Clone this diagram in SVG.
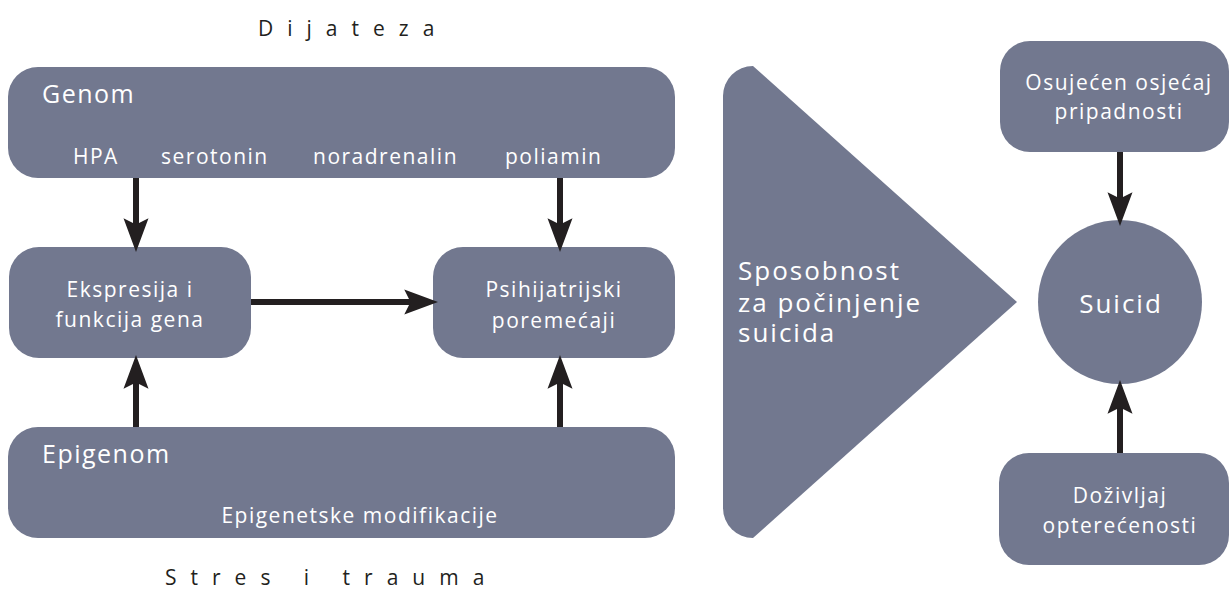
<svg xmlns="http://www.w3.org/2000/svg" width="1230" height="589" viewBox="0 0 1230 589">
<style>
.box{fill:#72788f}
.t{font-family:"Open Sans","Liberation Sans",sans-serif;fill:#ffffff;font-size:21px;letter-spacing:1.5px}
.c{text-anchor:middle}
.big{font-size:25px;letter-spacing:1.5px}
.huge{font-size:26px;letter-spacing:2px}
.hd{font-family:"Open Sans","Liberation Sans",sans-serif;fill:#231f20;font-size:21px;letter-spacing:14px}
.conn{stroke:#231f20;stroke-width:6;fill:none;marker-end:url(#ah)}
</style>
<defs>
<marker id="ah" markerUnits="userSpaceOnUse" orient="auto" refX="0" refY="0" markerWidth="40" markerHeight="40" viewBox="-10 -12 32 24" overflow="visible">
<path d="M20,0 L-7,-10 L-2,0 L-7,10 Z" fill="#231f20"/>
</marker>
</defs>
<text class="hd" x="258" y="36">Dijateza</text>
<text class="hd" x="165" y="585">Stres i trauma</text>
<g id="genom">
<rect class="box" x="8" y="67" width="667" height="111" rx="30"/>
<text class="t big" x="42" y="103">Genom</text>
<text class="t" x="73" y="164">HPA</text>
<text class="t" x="161" y="164">serotonin</text>
<text class="t" x="313" y="164">noradrenalin</text>
<text class="t" x="505" y="164">poliamin</text>
</g>
<g id="ekspresija">
<rect class="box" x="9" y="247" width="242" height="111" rx="30"/>
<text class="t c" x="130" y="297">Ekspresija i</text>
<text class="t c" x="130" y="327">funkcija gena</text>
</g>
<g id="psihijatrijski">
<rect class="box" x="433" y="247" width="242" height="111" rx="30"/>
<text class="t c" x="554" y="297">Psihijatrijski</text>
<text class="t c" x="554" y="328">poremećaji</text>
</g>
<g id="epigenom">
<rect class="box" x="8" y="427" width="667" height="111" rx="30"/>
<text class="t big" x="42" y="463">Epigenom</text>
<text class="t c" x="360" y="523">Epigenetske modifikacije</text>
</g>
<g id="sposobnost">
<path class="box" d="M753,66 L1017,302 L753,538 A30,30 0 0 1 723,508 L723,96 A30,30 0 0 1 753,66 Z"/>
<text class="t huge" x="738" y="280">Sposobnost</text>
<text class="t huge" x="738" y="312">za počinjenje</text>
<text class="t huge" x="738" y="342">suicida</text>
</g>
<g id="suicid">
<circle class="box" cx="1120" cy="302" r="82"/>
<text class="t huge c" x="1121" y="313">Suicid</text>
</g>
<g id="osujecen">
<rect class="box" x="1000" y="41" width="229" height="111" rx="30"/>
<text class="t c" x="1119" y="90">Osujećen osjećaj</text>
<text class="t c" x="1119" y="119">pripadnosti</text>
</g>
<g id="dozivljaj">
<rect class="box" x="999" y="453" width="230" height="112" rx="30"/>
<text class="t c" x="1120" y="503">Doživljaj</text>
<text class="t c" x="1120" y="533">opterećenosti</text>
</g>
<g id="connectors">
<path class="conn" d="M136,178 L136,227"/>
<path class="conn" d="M560,178 L560,227"/>
<path class="conn" d="M251,302 L413,302"/>
<path class="conn" d="M136,427 L136,380"/>
<path class="conn" d="M560,427 L560,380"/>
<path class="conn" d="M1120,152 L1120,201"/>
<path class="conn" d="M1120,453 L1120,405"/>
</g>
</svg>
